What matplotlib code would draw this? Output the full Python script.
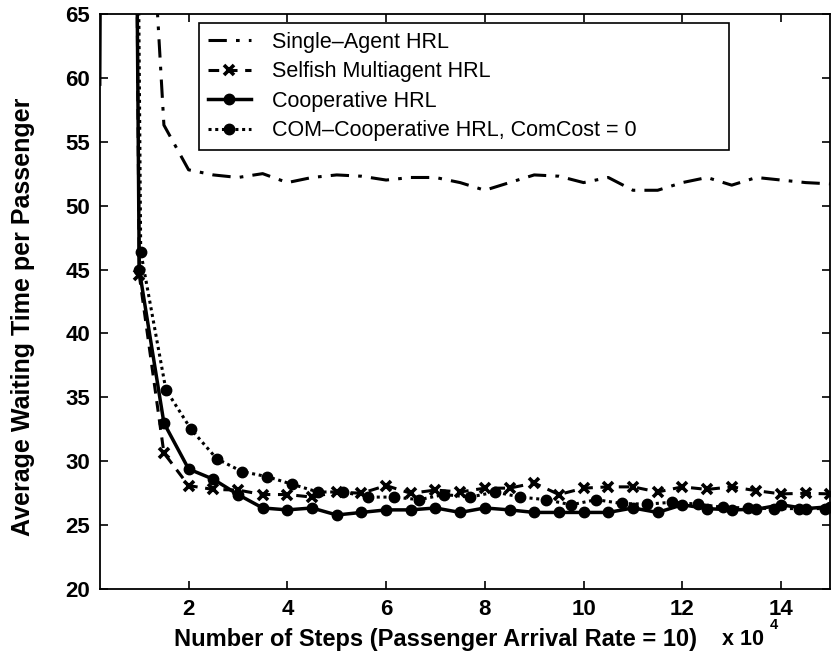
import matplotlib
matplotlib.use('Agg')
import matplotlib.pyplot as plt

plt.rcParams['font.family'] = ['Liberation Sans', 'DejaVu Sans']

# steps in units of 1e4
steps = [0.5, 1.0, 1.5, 2.0, 2.5, 3.0, 3.5, 4.0, 4.5, 5.0, 5.5, 6.0, 6.5, 7.0,
         7.5, 8.0, 8.5, 9.0, 9.5, 10.0, 10.5, 11.0, 11.5, 12.0, 12.5, 13.0, 13.5,
         14.0, 14.5, 15.0]
single = [300, 90, 56.3, 52.8, 52.4, 52.2, 52.5, 51.8, 52.2, 52.4, 52.3, 52.0,
          52.2, 52.2, 51.8, 51.2, 51.8, 52.4, 52.3, 51.8, 52.2, 51.2, 51.2, 51.8,
          52.2, 51.6, 52.2, 52.0, 51.8, 51.7]
selfish = [300, 44.6, 30.65, 28.1, 27.8, 27.75, 27.4, 27.4, 27.2, 27.6, 27.5,
           28.1, 27.5, 27.75, 27.6, 27.9, 27.9, 28.3, 27.4, 27.9, 28.0, 28.0, 27.6,
           28.0, 27.8, 28.0, 27.7, 27.45, 27.5, 27.45]
coop_steps = [0.2] + steps
coop = [59.5, 300, 45.0, 33.0, 29.4, 28.6, 27.4, 26.35, 26.2, 26.35, 25.8, 26.0,
        26.2, 26.2, 26.35, 26.0, 26.35, 26.2, 26.0, 26.0, 26.0, 26.0, 26.35, 26.0,
        26.6, 26.3, 26.2, 26.25, 26.6, 26.3, 26.45]
com_steps = [0.513, 1.03, 1.54, 2.05, 2.57, 3.08, 3.59, 4.1, 4.62, 5.13, 5.64,
             6.16, 6.67, 7.18, 7.7, 8.21, 8.72, 9.23, 9.75, 10.26, 10.77, 11.29,
             11.8, 12.31, 12.83, 13.34, 13.85, 14.36, 14.88]
com = [300, 46.4, 35.6, 32.5, 30.2, 29.2, 28.8, 28.2, 27.6, 27.6, 27.2, 27.2,
       27.0, 27.4, 27.2, 27.6, 27.2, 27.0, 26.6, 27.0, 26.7, 26.65, 26.8, 26.65,
       26.4, 26.35, 26.3, 26.3, 26.3]

fig = plt.figure(figsize=(8.38, 6.59), dpi=100)
ax = fig.add_axes([0.119, 0.106, 0.872, 0.873])

lw = 2.2
ax.plot(steps, single, color='black', linestyle='-.', linewidth=lw,
        dashes=(6, 3, 1.2, 3), label='Single\u2013Agent HRL')
ax.plot(steps, selfish, color='black', linestyle='--', linewidth=lw, dashes=(3.5, 2.5),
        marker='x', markersize=6.5, markeredgewidth=2.6, label='Selfish Multiagent HRL')
ax.plot(coop_steps, coop, color='black', linestyle='-', linewidth=2.5,
        marker='o', markersize=7.5, markevery=slice(1, None), label='Cooperative HRL')
ax.plot(com_steps, com, color='black', linestyle=':', linewidth=lw, dashes=(1, 1.2),
        marker='o', markersize=7.5, label='COM\u2013Cooperative HRL, ComCost = 0')

ax.set_xlim(0.2, 15)
ax.set_ylim(20, 65)
ax.set_xticks([2, 4, 6, 8, 10, 12, 14])
ax.set_yticks(range(20, 66, 5))
ax.tick_params(direction='in', top=True, right=True, length=6, width=1.2,
               labelsize=16, pad=7)
for lab in ax.get_xticklabels() + ax.get_yticklabels():
    lab.set_fontweight('bold')
for sp in ax.spines.values():
    sp.set_linewidth(1.3)

fig.text(0.027, 0.52, 'Average Waiting Time per Passenger', fontsize=18,
         fontweight='bold', rotation=90, ha='center', va='center')
fig.text(0.52, 0.029, 'Number of Steps (Passenger Arrival Rate = 10)', fontsize=17,
         fontweight='bold', ha='center', va='center')
fig.text(0.861, 0.029, 'x 10', fontsize=15.5, fontweight='bold', ha='left', va='center')
fig.text(0.918, 0.051, '4', fontsize=10.5, fontweight='bold', ha='left', va='center')

leg = ax.legend(loc='upper left', bbox_to_anchor=(0.136, 0.0, 0.725, 0.984),
                mode='expand', borderaxespad=0,
                fontsize=15.5, fancybox=False, framealpha=1, edgecolor='black',
                handlelength=2.0, labelspacing=0.4, borderpad=0.4, handletextpad=1.0)
leg.get_frame().set_linewidth(1.2)

fig.savefig('out.png', dpi=100)
